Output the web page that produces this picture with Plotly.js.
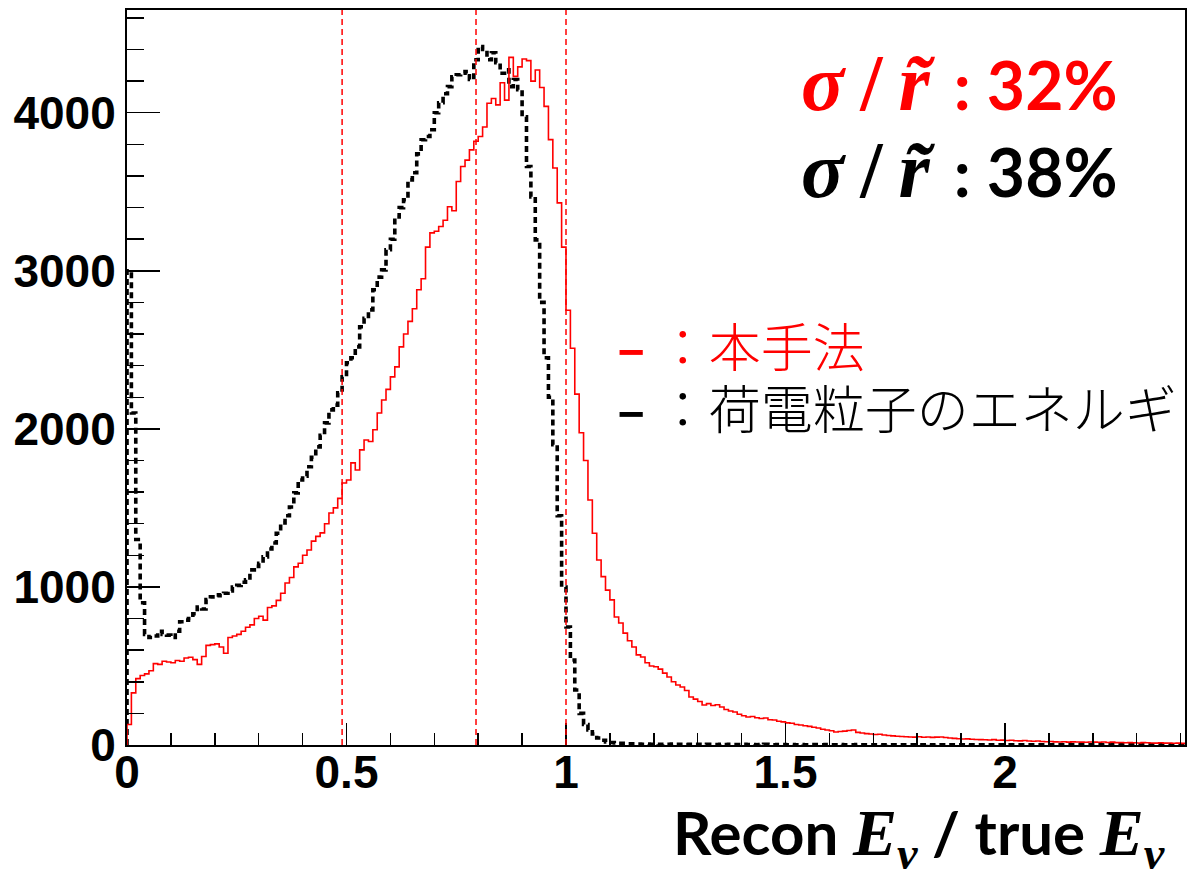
<!DOCTYPE html>
<html><head><meta charset="utf-8">
<script src="https://cdn.plot.ly/plotly-3.0.1.min.js"></script>
<style>body{margin:0;background:#fff}</style>
</head><body><div id="chart" style="width:1191px;height:872px"></div>
<script>
// Histogram bin width (Recon E / true E)
const binWidth = 0.01;

// 本手法 (red, solid) counts per bin, starting at 0
const redCounts = [
130,330,420,440,450,470,515,510,530,525,
520,535,530,550,555,540,510,560,630,635,
640,620,580,680,690,700,720,745,760,800,
815,790,870,880,915,960,1025,1060,1127,1150,
1200,1234,1290,1320,1342,1400,1468,1500,1560,1658,
1677,1785,1740,1867,1930,1920,1994,2100,2183,2250,
2329,2392,2519,2600,2680,2760,2880,2950,3150,3240,
3250,3280,3320,3405,3380,3565,3660,3700,3765,3820,
3850,3910,4060,4090,4050,4190,4080,4350,4230,4290,
4340,4330,4200,4270,4160,4040,3830,3650,3430,3150,
2750,2510,2220,1975,1800,1550,1340,1170,1065,980,
918,810,772,708,660,620,570,557,520,500,
495,480,455,430,400,380,367,345,304,290,
275,253,262,250,255,240,225,215,209,195,
185,177,180,172,168,171,160,158,150,146,
140,138,130,127,122,118,112,108,100,95,
90,82,85,88,92,95,80,76,72,70,
66,68,63,60,58,55,54,52,51,50,
52,49,51,48,50,51,47,44,42,40,
38,39,36,35,34,33,32,34,30,31,
28,30,27,26,28,25,24,25,22,21,
22,20,19,21,18,20,19,18,17,19,
18,17,19,16,18,15,16,14,15,14,
13,15,14,13,12,14,12,13,11,12,10
];

// 荷電粒子のエネルギ (black, dashed) counts per bin, starting at 0
const blackCounts = [
3000,2100,1300,900,700,680,690,720,700,695,
680,720,780,790,800,830,873,860,920,937,
950,945,960,975,1000,1010,1030,1045,1108,1130,
1150,1190,1240,1278,1340,1405,1450,1506,1595,1677,
1700,1760,1820,1886,1960,2038,2120,2150,2228,2329,
2418,2450,2519,2646,2700,2753,2880,2960,3006,3133,
3200,3340,3400,3450,3575,3620,3740,3829,3850,3892,
4000,4063,4120,4165,4228,4240,4250,4260,4210,4335,
4418,4400,4335,4380,4316,4250,4272,4165,4210,4145,
3975,3660,3468,3196,2800,2450,2200,1900,1450,1000,
747,538,348,200,130,95,70,44,30,19,
16,13,11,10,8,7,6,5,6,5,
5,4,5,4,6,4,5,3,4,5,
4,3,4,4,3,5,3,4,3,3,
4,3,3,2,3,4,3,2,3,3,
2,3,2,3,2,2,3,2,2,3,
2,2,3,2,2,2,3,2,2,2,
2,2,1,2,2,2,1,2,2,1,
2,1,2,1,2,1,1,2,1,1,
1,2,1,1,1,1,2,1,1,1,
1,1,1,1,1,1,1,1,1,1,
1,1,1,1,1,1,1,1,1,1,
1,1,1,1,1,1,1,1,1,1,
1,1,1,1,1,1,1,1,1,1,1
];

// Reference lines (red dashed verticals)
const markerLines = [0.49, 0.795, 1.0];

// Tick labels
const xTickVals = [0, 0.5, 1, 1.5, 2];
const xTickText = ['0', '0.5', '1', '1.5', '2'];
const yTickVals = [0, 1000, 2000, 3000, 4000];
const yTickText = ['0', '1000', '2000', '3000', '4000'];

// Resolution labels and legend labels
const resRed = '32%';
const resBlack = '38%';
const legendRed = '本手法';
const legendBlack = '荷電粒子のエネルギ';

function stepXY(counts) {
  const x = [0], y = [0];
  counts.forEach((c, i) => { x.push(i * binWidth); y.push(c); });
  x.push(counts.length * binWidth); y.push(counts[counts.length - 1]);
  return {x, y};
}

const r = stepXY(redCounts);
const b = stepXY(blackCounts);

const traces = [
  {x: b.x, y: b.y, type: 'scatter', mode: 'lines',
   line: {shape: 'hv', color: '#000000', width: 3.6, dash: '6px,4px'}, hoverinfo: 'skip'},
  {x: r.x, y: r.y, type: 'scatter', mode: 'lines',
   line: {shape: 'hv', color: '#ff0000', width: 1.6}, hoverinfo: 'skip'}
];

const shapes = markerLines.map(v => ({
  type: 'line', xref: 'x', yref: 'paper', x0: v, x1: v, y0: 0, y1: 1,
  line: {color: '#ff0000', width: 1.5, dash: '6px,4px'}
}));

const serifBig = "font-family:'Liberation Serif';font-size:80px";
const serifTitle = "font-family:'Liberation Serif';font-size:66px";
function sigmaText(val) {
  return `<b><span style="${serifBig}"><i>σ</i>\u2009/\u2009<i>r\u0303</i></span>\u2009 : ${val}</b>`;
}

const annotations = [
  {xref: 'paper', yref: 'paper', x: 0.9386, y: 0.9, xanchor: 'right', yanchor: 'middle',
   text: sigmaText(resRed), showarrow: false,
   font: {family: 'Lato', size: 66, color: '#ff0000'}},
  {xref: 'paper', yref: 'paper', x: 0.9386, y: 0.782, xanchor: 'right', yanchor: 'middle',
   text: sigmaText(resBlack), showarrow: false,
   font: {family: 'Lato', size: 66, color: '#000000'}},
  {xref: 'paper', yref: 'paper', x: 0.461, y: 0.545, xanchor: 'left', yanchor: 'middle',
   text: '<b>–</b> ：' + legendRed, showarrow: false,
   font: {family: 'Noto Sans CJK JP', size: 52, color: '#ff0000', weight: 300}},
  {xref: 'paper', yref: 'paper', x: 0.461, y: 0.46, xanchor: 'left', yanchor: 'middle',
   text: '<b>–</b> ：' + legendBlack, showarrow: false,
   font: {family: 'Noto Sans CJK JP', size: 52, color: '#000000', weight: 300}},
  {xref: 'paper', yref: 'paper', x: 0.983, y: -0.1265, xanchor: 'right', yanchor: 'middle',
   text: `<b>Recon <span style="${serifTitle}"><i>E</i><sub><i>ν</i></sub></span> / true <span style="${serifTitle}"><i>E</i><sub><i>ν</i></sub></span></b>`,
   showarrow: false, font: {family: 'Lato', size: 60, color: '#000000'}}
];

const layout = {
  width: 1191, height: 872,
  margin: {l: 127, r: 6, t: 10, b: 127, pad: 0},
  paper_bgcolor: '#ffffff', plot_bgcolor: '#ffffff',
  showlegend: false,
  xaxis: {
    range: [0, 2.41], showgrid: false, zeroline: false,
    showline: true, mirror: true, linecolor: '#000', linewidth: 2,
    ticks: 'inside', ticklen: 22, tickwidth: 1.5, tickcolor: '#000',
    tickvals: xTickVals, ticktext: xTickText, ticklabelstandoff: -14,
    tickfont: {family: 'Liberation Sans', size: 46, color: '#000', weight: 'bold'},
    minor: {dtick: 0.1, tick0: 0, ticks: 'inside', ticklen: 12, tickwidth: 1.5, tickcolor: '#000'}
  },
  yaxis: {
    range: [0, 4650], showgrid: false, zeroline: false,
    showline: true, mirror: true, linecolor: '#000', linewidth: 2,
    ticks: 'inside', ticklen: 33, tickwidth: 1.5, tickcolor: '#000',
    tickvals: yTickVals, ticktext: yTickText,
    tickfont: {family: 'Liberation Sans', size: 46, color: '#000', weight: 'bold'},
    minor: {dtick: 200, tick0: 0, ticks: 'inside', ticklen: 17, tickwidth: 1.5, tickcolor: '#000'}
  },
  shapes: shapes,
  annotations: annotations
};

Plotly.newPlot('chart', traces, layout, {staticPlot: true, displayModeBar: false});
</script>
</body></html>
